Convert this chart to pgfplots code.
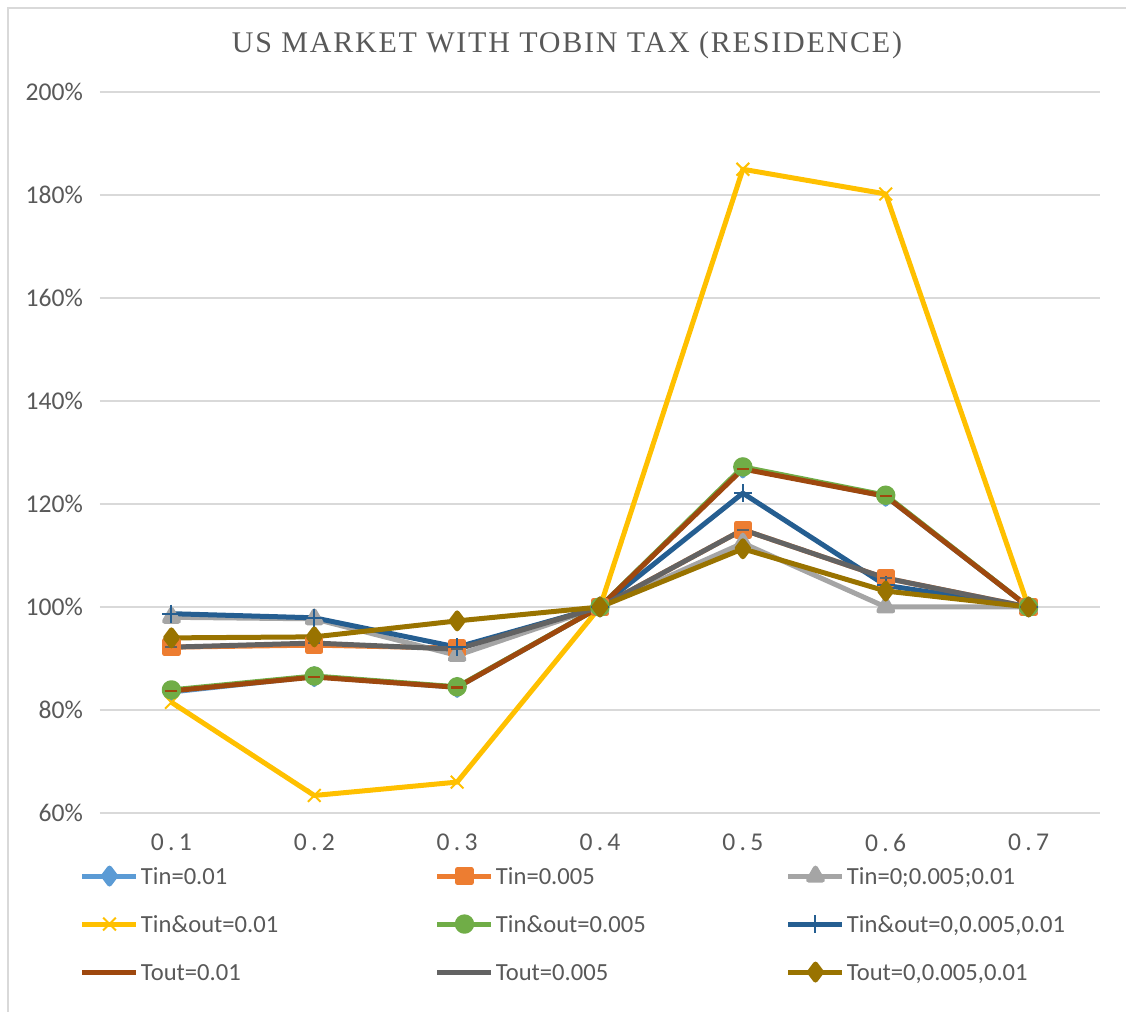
\documentclass[border=0pt]{standalone}
\usepackage{pgfplots}
\pgfplotsset{compat=1.18}
\usepackage{fontspec}
\setmainfont{Carlito}
\newfontfamily\titlefont[LetterSpace=6]{Liberation Serif}
\definecolor{cA}{HTML}{5B9BD5}
\definecolor{cB}{HTML}{ED7D31}
\definecolor{cC}{HTML}{A5A5A5}
\definecolor{cD}{HTML}{FFC000}
\definecolor{cE}{HTML}{70AD47}
\definecolor{cF}{HTML}{255E91}
\definecolor{cG}{HTML}{9E480E}
\definecolor{cH}{HTML}{636363}
\definecolor{cI}{HTML}{997300}
\definecolor{txt}{HTML}{595959}
\definecolor{gridc}{HTML}{D9D9D9}
\begin{document}
\begin{tikzpicture}
\path[use as bounding box] (-50pt,-99.5pt) rectangle (513pt,406.5pt);
\draw[gridc, line width=0.8pt] (-46pt,-100pt) -- (-46pt,402.5pt) -- (514pt,402.5pt);
\begin{axis}[
  at={(0pt,0pt)}, anchor=south west,
  width=500pt, height=360.5pt, scale only axis,
  xmin=-0.5, xmax=6.5, ymin=60, ymax=200,
  xtick={0,...,6},
  xticklabels={0\,.\,1,0\,.\,2,0\,.\,3,0\,.\,4,0\,.\,5,0\,.\,6,0\,.\,7},
  ytick={60,80,...,200},
  yticklabel={\pgfmathprintnumber{\tick}\%},
  /pgf/number format/assume math mode=true,
  tick label style={font=\fontsize{12.8}{14}\selectfont, text=txt},
  xtick style={draw=none}, ytick style={draw=none},
  x tick label style={yshift=-7pt},
  y tick label style={xshift=-5pt},
  xmajorgrids=false, ymajorgrids=true,
  grid style={draw=gridc, line width=0.8pt},
  axis line style={draw=none},
  every axis plot/.append style={line width=2.5pt, line join=round},
  legend columns=3,
  legend style={at={(axis description cs:-0.02,-0.075)}, anchor=north west,
    draw=none, fill=none, inner sep=0pt, outer sep=0pt,
    font=\fontsize{12.3}{14}\selectfont, text=txt,
    nodes={inner sep=0pt, anchor=base west, text height=8.5pt, text depth=2.5pt},
    column sep=0pt, row sep=13pt},
  legend image code/.code={\draw[mark repeat=2,mark phase=2,#1] plot coordinates {(0pt,4pt)(13.5pt,4pt)(27pt,4pt)};},
]
\addplot[cA, mark=diamond*, mark size=4pt] coordinates {(0,83.5)(1,86.5)(2,84.4)(3,100)(4,127)(5,121.5)(6,100)};
\addlegendentry{\makebox[148pt][l]{\hspace*{1pt}Tin=0.01}}
\addplot[cB, mark=square*, mark size=3.3pt] coordinates {(0,92.2)(1,92.6)(2,92)(3,100)(4,115)(5,105.6)(6,100)};
\addlegendentry{\makebox[146pt][l]{\hspace*{1pt}Tin=0.005}}
\addplot[cC, mark=triangle*, mark size=4pt] coordinates {(0,98)(1,97.7)(2,90.6)(3,100)(4,112.4)(5,100)(6,100)};
\addlegendentry{\makebox[146pt][l]{\hspace*{1pt}Tin=0;0.005;0.01}}
\addplot[cD, mark=x, mark size=4.5pt, mark options={line width=1pt}] coordinates {(0,81.5)(1,63.4)(2,66)(3,100)(4,185)(5,180.2)(6,100)};
\addlegendentry{\makebox[148pt][l]{\hspace*{1pt}Tin\&out=0.01}}
\addplot[cE, mark=*, mark size=3.6pt] coordinates {(0,83.9)(1,86.6)(2,84.5)(3,100)(4,127.2)(5,121.7)(6,100)};
\addlegendentry{\makebox[146pt][l]{\hspace*{1pt}Tin\&out=0.005}}
\addplot[cF, mark=+, mark size=4.5pt, mark options={line width=1pt}] coordinates {(0,98.7)(1,97.9)(2,92.2)(3,100)(4,122.1)(5,104.2)(6,100)};
\addlegendentry{\makebox[146pt][l]{\hspace*{1pt}Tin\&out=0,0.005,0.01}}
\addplot[cG, mark=-, mark size=3pt, mark options={line width=1.2pt}] coordinates {(0,83.7)(1,86.4)(2,84.4)(3,100)(4,126.8)(5,121.5)(6,100)};
\addlegendentry{\makebox[148pt][l]{\hspace*{1pt}Tout=0.01}}
\addplot[cH, mark=-, mark size=3pt, mark options={line width=1.2pt}] coordinates {(0,92.2)(1,93)(2,91.8)(3,100)(4,115)(5,105.6)(6,100)};
\addlegendentry{\makebox[146pt][l]{\hspace*{1pt}Tout=0.005}}
\addplot[cI, mark=diamond*, mark size=4pt] coordinates {(0,94)(1,94.2)(2,97.3)(3,100)(4,111.3)(5,103.1)(6,100)};
\addlegendentry{\makebox[146pt][l]{\hspace*{1pt}Tout=0,0.005,0.01}}
\end{axis}
\node[text=txt, font=\titlefont\fontsize{15}{17}\selectfont] at (233.5pt,384pt) {US MARKET WITH TOBIN TAX (RESIDENCE)};
\end{tikzpicture}
\end{document}
